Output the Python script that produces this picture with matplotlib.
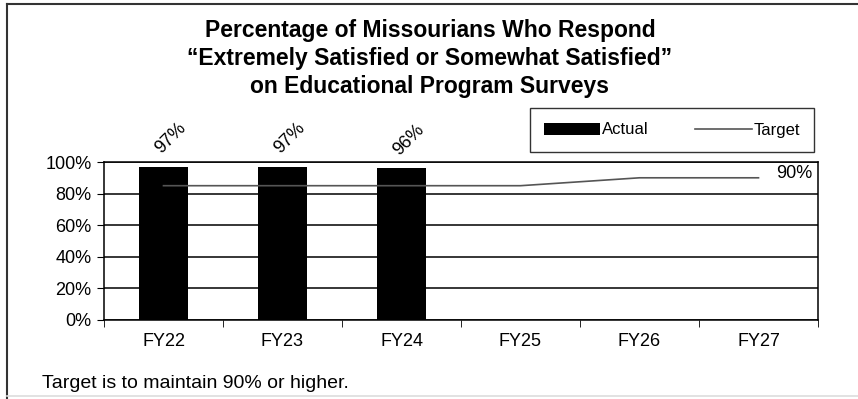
import matplotlib.pyplot as plt
import numpy as np
from matplotlib.lines import Line2D

plt.rcParams['font.family'] = ['Liberation Sans', 'DejaVu Sans']

# data
years = ['FY22', 'FY23', 'FY24', 'FY25', 'FY26', 'FY27']
actual = [97, 97, 96]
target = [85, 85, 85, 85, 90, 90]
yticks = [0, 20, 40, 60, 80, 100]

W, H = 858, 399
fig = plt.figure(figsize=(W / 100, H / 100), dpi=100)

# outer frame (top + left dark, bottom faint)
fig.add_artist(Line2D([7 / W, 1], [1 - 4 / H, 1 - 4 / H], transform=fig.transFigure,
                      color='#333333', linewidth=1.5))
fig.add_artist(Line2D([7 / W, 7 / W], [0, 1 - 4 / H], transform=fig.transFigure,
                      color='#333333', linewidth=1.5))
fig.add_artist(Line2D([7 / W, 1], [3 / H, 3 / H], transform=fig.transFigure,
                      color='#dddddd', linewidth=1.2))

ax = fig.add_axes([104 / W, 79 / H, 714 / W, 158 / H])
x = np.arange(len(years))

bars = ax.bar(x[:len(actual)], actual, width=0.41, color='black', label='Actual', zorder=3)
tline, = ax.plot(x, target, color='#555555', linewidth=1.2, label='Target', zorder=4)

for xi, v in zip(x, actual):
    ax.text(xi + 0.06, v + 18, f'{v}%', rotation=45, ha='center', va='center',
            fontsize=13, rotation_mode='anchor', clip_on=False)
ax.text(x[-1] + 0.15, target[-1] + 3, f'{target[-1]}%', fontsize=13,
        ha='left', va='center')

ax.set_xlim(-0.5, len(years) - 0.5)
ax.set_ylim(0, 100)
ax.set_yticks(yticks)
ax.set_yticklabels([f'{t}%' for t in yticks], fontsize=13)
ax.set_xticks(x)
ax.set_xticklabels(years, fontsize=13)
ax.tick_params(axis='x', length=0, pad=9)
ax.set_xticks(np.arange(-0.5, len(years)), minor=True)
ax.tick_params(axis='x', which='minor', length=5, direction='out', color='black')
ax.tick_params(axis='y', length=5, direction='out', pad=4)
ax.grid(axis='y', color='black', linewidth=1.1, zorder=1)
for s in ax.spines.values():
    s.set_color('black')
    s.set_linewidth(1.1)

title_lines = ['Percentage of Missourians Who Respond',
               '\u201cExtremely Satisfied or Somewhat Satisfied\u201d',
               'on Educational Program Surveys']
for line, yp in zip(title_lines, [31, 59, 86]):
    fig.text(0.501, 1 - yp / H, line, ha='center', va='center',
             fontsize=16.5, fontweight='bold')

leg = fig.legend(handles=[bars, tline], labels=['Actual', 'Target'], loc='center',
                 bbox_to_anchor=(672 / W, 1 - 130 / H), ncol=2, frameon=True,
                 fancybox=False, edgecolor='black', fontsize=12, handlelength=3.4,
                 handletextpad=0.1, columnspacing=2.8, borderpad=0.85)
leg.get_frame().set_linewidth(1)

fig.text(42 / W, 1 - 383 / H, 'Target is to maintain 90% or higher.', fontsize=14,
         ha='left', va='center')

fig.savefig('out.png', dpi=100)
